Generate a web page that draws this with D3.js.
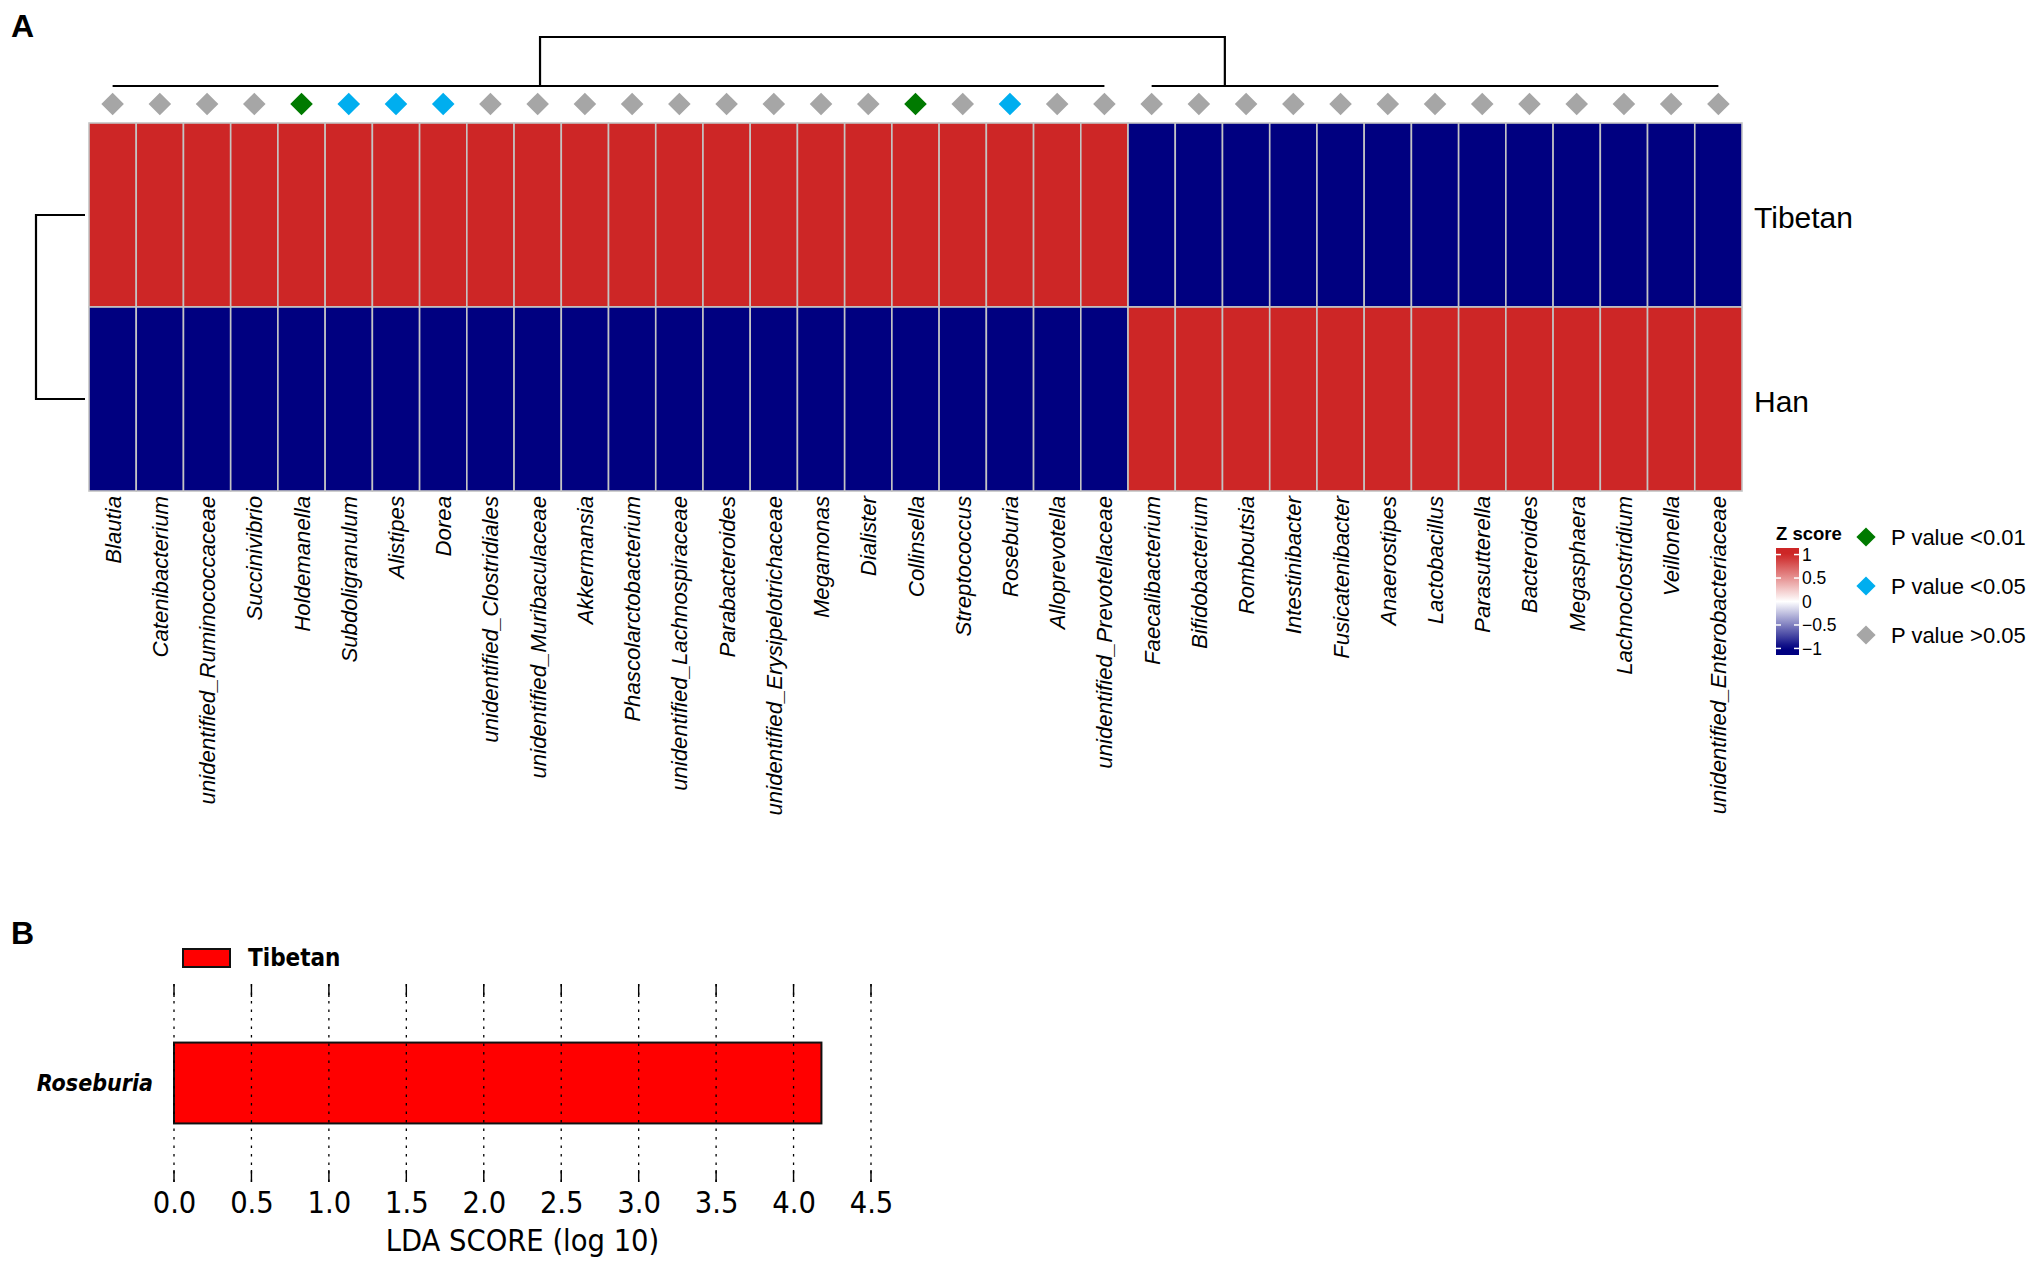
<!DOCTYPE html>
<html>
<head>
<meta charset="utf-8">
<script src="https://cdn.jsdelivr.net/npm/d3@7"></script>
<style>
  body { margin: 0; background: #fff; }
  svg { display: block; }
  .hm text { font-family: "Liberation Sans", Arial, sans-serif; }
  .lefse text { font-family: "DejaVu Sans Condensed", "DejaVu Sans", sans-serif; font-stretch: condensed; }
</style>
</head>
<body>
<script>
// ---- data ----
const taxa = [
  'Blautia', 'Catenibacterium', 'unidentified_Ruminococcaceae', 'Succinivibrio', 'Holdemanella',
  'Subdoligranulum', 'Alistipes', 'Dorea', 'unidentified_Clostridiales', 'unidentified_Muribaculaceae',
  'Akkermansia', 'Phascolarctobacterium', 'unidentified_Lachnospiraceae', 'Parabacteroides',
  'unidentified_Erysipelotrichaceae', 'Megamonas', 'Dialister', 'Collinsella', 'Streptococcus',
  'Roseburia', 'Alloprevotella', 'unidentified_Prevotellaceae', 'Faecalibacterium', 'Bifidobacterium',
  'Romboutsia', 'Intestinibacter', 'Fusicatenibacter', 'Anaerostipes', 'Lactobacillus', 'Parasutterella',
  'Bacteroides', 'Megasphaera', 'Lachnoclostridium', 'Veillonella', 'unidentified_Enterobacteriaceae'
];
const groups = ['Tibetan', 'Han'];
const tibetanZ = [1, 1, 1, 1, 1, 1, 1, 1, 1, 1, 1, 1, 1, 1, 1, 1, 1, 1, 1, 1, 1, 1,
  -1, -1, -1, -1, -1, -1, -1, -1, -1, -1, -1, -1, -1];
const hanZ = [-1, -1, -1, -1, -1, -1, -1, -1, -1, -1, -1, -1, -1, -1, -1, -1, -1, -1, -1, -1, -1, -1,
  1, 1, 1, 1, 1, 1, 1, 1, 1, 1, 1, 1, 1];
// p value class per taxon: 'p01' <0.01, 'p05' <0.05, 'ns' >0.05
const pClass = ['ns', 'ns', 'ns', 'ns', 'p01', 'p05', 'p05', 'p05', 'ns', 'ns', 'ns', 'ns', 'ns', 'ns',
  'ns', 'ns', 'ns', 'p01', 'ns', 'p05', 'ns', 'ns', 'ns', 'ns', 'ns', 'ns', 'ns', 'ns', 'ns', 'ns',
  'ns', 'ns', 'ns', 'ns', 'ns'];
const pLegend = [['p01', 'P value <0.01'], ['p05', 'P value <0.05'], ['ns', 'P value >0.05']];
const zTicks = [1, 0.5, 0, -0.5, -1];

// column dendrogram: two flat clusters (leaf index ranges) joined at the root
const colClusters = [[0, 21], [22, 34]];
const colJoins = [9.05, 23.55];   // where the root arms drop, in leaf-index units

const ldaTaxa = ['Roseburia'];
const ldaScores = [4.18];
const ldaTicks = [0, 0.5, 1, 1.5, 2, 2.5, 3, 3.5, 4, 4.5];

// ---- setup ----
const W = 2033, H = 1262;
const svg = d3.select('body').append('svg')
    .attr('width', W).attr('height', H)
    .attr('viewBox', `0 0 ${W} ${H}`);
svg.append('rect').attr('width', W).attr('height', H).attr('fill', '#fff');

const hm = svg.append('g').attr('class', 'hm');

hm.append('text').attr('x', 11).attr('y', 37)
    .style('font-size', '32px').style('font-weight', 'bold').text('A');

const x = d3.scaleBand().domain(taxa).range([89, 1742]);
const y = d3.scaleBand().domain(groups).range([123, 491]);
const color = d3.scaleLinear().domain([-1, 0, 1])
    .range(['#000080', '#ffffff', '#CD2626']).clamp(true);

const cells = [];
taxa.forEach((t, i) => {
  cells.push({taxon: t, group: 'Tibetan', z: tibetanZ[i]});
  cells.push({taxon: t, group: 'Han', z: hanZ[i]});
});

hm.append('g').selectAll('rect')
  .data(cells)
  .enter().append('rect')
    .attr('x', d => x(d.taxon))
    .attr('y', d => y(d.group))
    .attr('width', x.bandwidth())
    .attr('height', y.bandwidth())
    .attr('fill', d => color(d.z))
    .attr('stroke', '#c4c4c4')
    .attr('stroke-width', 1.6);

// row labels
hm.append('g').selectAll('text')
  .data(groups)
  .enter().append('text')
    .attr('x', 1754)
    .attr('y', d => y(d) + y.bandwidth() / 2 + 13)
    .style('font-size', '30px')
    .text(d => d);

// column labels
hm.append('g').selectAll('text')
  .data(taxa)
  .enter().append('text')
    .attr('transform', d => `translate(${x(d) + x.bandwidth() / 2},496) rotate(-90)`)
    .attr('dy', '0.36em')
    .attr('text-anchor', 'end')
    .style('font-size', '22.2px')
    .style('font-style', 'italic')
    .text(d => d);

// p value diamonds
const pColor = {p01: '#007A00', p05: '#00AEEF', ns: '#A6A6A6'};
const diamond = d3.symbol().type(d3.symbolSquare).size(255);
hm.append('g').selectAll('path')
  .data(taxa)
  .enter().append('path')
    .attr('d', diamond)
    .attr('transform', d => `translate(${x(d) + x.bandwidth() / 2},104) rotate(45)`)
    .attr('fill', (d, i) => pColor[pClass[i]]);

// column dendrogram
const leafX = i => x(taxa[i]) + x.bandwidth() / 2;
const colH = d3.scaleLinear().domain([0, 1]).range([86, 37]);
const leafPos = i => x(taxa[0]) + (i + 0.5) * x.bandwidth();
const dend = hm.append('g').attr('stroke', '#000').attr('stroke-width', 2.2).attr('fill', 'none');
colClusters.forEach(c => {
  dend.append('line').attr('x1', leafX(c[0])).attr('x2', leafX(c[1]))
      .attr('y1', colH(0)).attr('y2', colH(0));
});
dend.append('path').attr('d',
  `M${leafPos(colJoins[0])},${colH(0)}V${colH(1)}H${leafPos(colJoins[1])}V${colH(0)}`);

// row dendrogram
const rowH = d3.scaleLinear().domain([0, 1]).range([85, 36]);
const rc = groups.map(g => y(g) + y.bandwidth() / 2);
dend.append('path').attr('d',
  `M${rowH(0)},${rc[0]}H${rowH(1)}V${rc[1]}H${rowH(0)}`);

// z score legend
const zs = d3.scaleLinear().domain([-1.14, 1.14]).range([655, 548]);
const grad = svg.append('defs').append('linearGradient')
    .attr('id', 'zgrad').attr('x1', 0).attr('x2', 0).attr('y1', 1).attr('y2', 0);
d3.range(0, 1.0001, 0.05).forEach(f => {
  grad.append('stop').attr('offset', f).attr('stop-color', color(-1.14 + f * 2.28));
});
const zl = hm.append('g');
zl.append('text').attr('x', 1776).attr('y', 540)
    .style('font-size', '18.5px').style('font-weight', 'bold').text('Z score');
zl.append('rect').attr('x', 1776).attr('y', 548).attr('width', 23).attr('height', 107)
    .attr('fill', 'url(#zgrad)');
zTicks.forEach(t => {
  zl.append('line').attr('x1', 1776).attr('x2', 1781).attr('y1', zs(t)).attr('y2', zs(t))
      .attr('stroke', '#fff').attr('stroke-width', 1.5);
  zl.append('line').attr('x1', 1794).attr('x2', 1799).attr('y1', zs(t)).attr('y2', zs(t))
      .attr('stroke', '#fff').attr('stroke-width', 1.5);
  zl.append('text').attr('x', 1802).attr('y', zs(t)).attr('dy', '0.36em')
      .style('font-size', '17.5px').text(t < 0 ? '\u2212' + Math.abs(t) : String(t));
});

// p value legend
const pl = hm.append('g');
pLegend.forEach((p, i) => {
  const cy = 537 + i * 49;
  pl.append('path').attr('d', d3.symbol().type(d3.symbolSquare).size(185))
      .attr('transform', `translate(1866,${cy}) rotate(45)`)
      .attr('fill', pColor[p[0]]);
  pl.append('text').attr('x', 1891).attr('y', cy).attr('dy', '0.36em')
      .style('font-size', '22px').text(p[1]);
});

// ---- panel B: LDA ----
const lf = svg.append('g').attr('class', 'lefse');
svg.append('text').attr('x', 11).attr('y', 944)
    .style('font-family', '"Liberation Sans", Arial, sans-serif')
    .style('font-size', '32px').style('font-weight', 'bold').text('B');

const lx = d3.scaleLinear().domain([0, 4.5]).range([174, 871]);
const ly = d3.scaleBand().domain(ldaTaxa).range([984, 1182]).paddingInner(0.42).paddingOuter(0.42);

lf.append('rect').attr('x', 183).attr('y', 949).attr('width', 47).attr('height', 18)
    .attr('fill', '#ff0000').attr('stroke', '#111').attr('stroke-width', 2);
lf.append('text').attr('x', 248).attr('y', 966)
    .style('font-size', '24px').style('font-weight', 'bold').text('Tibetan');

lf.selectAll('rect.bar')
  .data(ldaTaxa)
  .enter().append('rect')
    .attr('class', 'bar')
    .attr('x', lx(0))
    .attr('y', d => ly(d))
    .attr('width', (d, i) => lx(ldaScores[i]) - lx(0))
    .attr('height', ly.bandwidth())
    .attr('fill', '#ff0000')
    .attr('stroke', '#111')
    .attr('stroke-width', 2);

// grid + ticks
const [gy0, gy1] = ly.range();
ldaTicks.forEach(t => {
  lf.append('line').attr('x1', lx(t)).attr('x2', lx(t)).attr('y1', gy0).attr('y2', gy1)
      .attr('stroke', '#000').attr('stroke-width', 1.3).attr('stroke-dasharray', '2.5,6');
  lf.append('line').attr('x1', lx(t)).attr('x2', lx(t)).attr('y1', gy0).attr('y2', gy0 + 13)
      .attr('stroke', '#000').attr('stroke-width', 1.4);
  lf.append('line').attr('x1', lx(t)).attr('x2', lx(t)).attr('y1', gy1 - 12).attr('y2', gy1)
      .attr('stroke', '#000').attr('stroke-width', 1.4);
});

lf.append('g')
    .attr('transform', `translate(0,${gy1})`)
    .call(d3.axisBottom(lx).tickValues(ldaTicks).tickFormat(d3.format('.1f')).tickSize(0).tickPadding(9))
    .call(g => g.select('.domain').remove())
    .selectAll('text')
    .style('font-size', '30.5px')
    .attr('fill', '#000');

lf.selectAll('text.ylab')
  .data(ldaTaxa)
  .enter().append('text')
    .attr('class', 'ylab')
    .attr('x', 153)
    .attr('y', d => ly(d) + ly.bandwidth() / 2)
    .attr('dy', '0.36em')
    .attr('text-anchor', 'end')
    .style('font-size', '23px')
    .style('font-weight', 'bold')
    .style('font-style', 'italic')
    .text(d => d);

lf.append('text')
    .attr('x', (lx(0) + lx(4.5)) / 2)
    .attr('y', 1251)
    .attr('text-anchor', 'middle')
    .style('font-size', '30.5px')
    .text('LDA SCORE (log 10)');
</script>
</body>
</html>
